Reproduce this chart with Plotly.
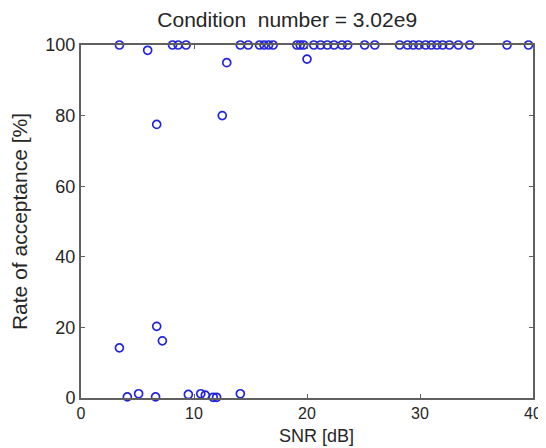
import plotly.graph_objects as go

snr_top = [3.4, 8.1, 8.6, 9.3, 14.1, 14.8, 15.8, 16.2, 16.6, 17.0, 19.1, 19.4, 19.7,
           20.6, 21.2, 21.8, 22.4, 23.1, 23.6, 25.1, 26.0, 28.2, 28.9, 29.4, 29.9,
           30.5, 31.0, 31.5, 32.0, 32.6, 33.4, 34.4, 37.7, 39.6]
rate_top = [100] * len(snr_top)
snr_other = [5.9, 12.9, 20.0, 6.7, 12.5, 3.4, 6.7, 7.2,
             4.1, 5.1, 6.6, 9.5, 10.6, 11.0, 11.7, 12.0, 14.1]
rate_other = [98.5, 95, 96, 77.5, 80, 14.2, 20.3, 16.2,
              0.3, 1.2, 0.3, 1.0, 1.2, 0.8, 0.2, 0.2, 1.2]

snr = snr_top + snr_other
rate = rate_top + rate_other

x_ticks = [0, 10, 20, 30, 40]
y_ticks = [0, 20, 40, 60, 80, 100]

FONT = "Liberation Sans"
TXT = "#262626"

fig = go.Figure()
fig.add_trace(go.Scatter(
    x=snr, y=rate, mode="markers",
    marker=dict(symbol="circle-open", size=8, color="#2424dc", line=dict(width=1.7)),
    cliponaxis=False, showlegend=False))

axis_common = dict(showgrid=False, zeroline=False, showline=True, mirror="ticks",
                   linecolor="#606060", linewidth=2, ticks="inside", ticklen=4,
                   tickcolor="#606060")
fig.update_xaxes(range=[0, 40], tickvals=x_ticks, **axis_common,
                 tickfont=dict(family=FONT, size=16, color=TXT))
fig.update_yaxes(range=[0, 100], tickvals=y_ticks, **axis_common,
                 tickfont=dict(family=FONT, size=18, color=TXT),
                 title=dict(text="Rate of acceptance [%]", font=dict(family=FONT, size=21, color=TXT), standoff=14))
fig.add_annotation(text="SNR [dB]", xref="paper", yref="paper", x=0.52, y=-0.14,
                   xanchor="center", yanchor="bottom", showarrow=False, borderpad=0,
                   font=dict(family=FONT, size=18, color=TXT))
# the page body adds an 8px offset, so the figure is 8px smaller and margins shifted
fig.update_layout(
    width=538, height=440,
    margin=dict(l=73, r=13, t=37, b=50, autoexpand=False),
    plot_bgcolor="white", paper_bgcolor="white",
    title=dict(text="Condition  number = 3.02e9", x=0.519, xanchor="center", y=0.973, yanchor="middle",
               font=dict(family=FONT, size=21, color=TXT)),
)
fig.write_html("out.html")
